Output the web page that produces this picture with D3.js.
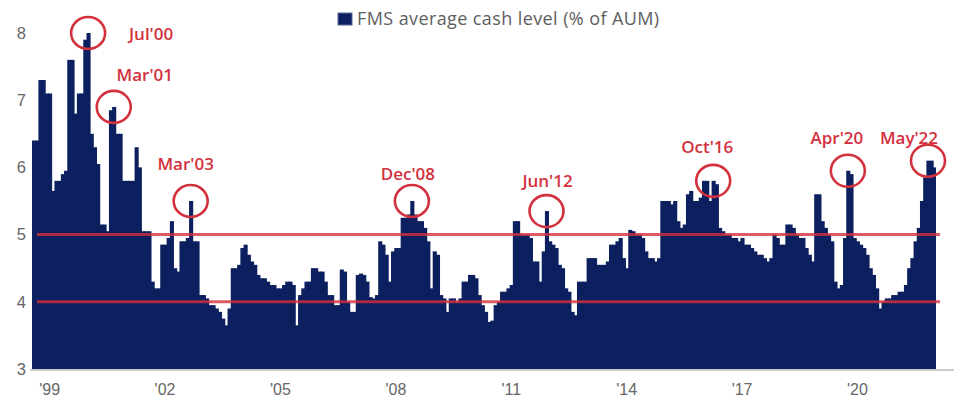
<!DOCTYPE html>
<html lang="en">
<head>
<meta charset="UTF-8">
<title>FMS average cash level</title>
<script src="https://cdnjs.cloudflare.com/ajax/libs/d3/7.8.5/d3.min.js"></script>
<style>
    body { margin: 0; background: #fff; }
    svg { display: block; font-family: 'Open Sans', 'Noto Sans', sans-serif; }
    .axis text { fill: #666; }
    .axis path, .axis line { display: none; }
    .note { fill: #d2313d; font-weight: 600; font-size: 17px; text-anchor: middle; }
</style>
</head>
<body>
<svg id="chart" width="954" height="407"></svg>
<script>
    // monthly FMS cash level, Feb 1999 .. Jul 2022
    const startMonth = new Date(1999, 1, 1);
    const cashLevel = [
        6.4, 6.4, 7.3, 7.3, 7.1, 7.1, 5.65, 5.8, 5.8, 5.9, 5.95,             // 1999 (Feb-Dec)
        7.6, 7.6, 6.8, 7.1, 7.1, 7.9, 8.0, 6.5, 6.3, 6.05, 5.15, 5.15,       // 2000
        5.05, 6.85, 6.9, 6.5, 6.5, 5.8, 5.8, 5.8, 5.8, 6.3, 6.0, 5.05,       // 2001
        5.05, 5.05, 4.3, 4.2, 4.2, 4.85, 4.85, 4.95, 5.2, 4.5, 4.45, 4.9,    // 2002
        4.9, 4.95, 5.5, 4.9, 4.9, 4.1, 4.1, 4.05, 3.95, 3.95, 3.9, 3.85,     // 2003
        3.75, 3.65, 3.9, 4.5, 4.5, 4.55, 4.8, 4.85, 4.7, 4.6, 4.55, 4.4,     // 2004
        4.35, 4.35, 4.3, 4.25, 4.25, 4.2, 4.2, 4.25, 4.3, 4.3, 4.25, 3.65,   // 2005
        4.1, 4.2, 4.3, 4.3, 4.5, 4.5, 4.45, 4.45, 4.3, 4.1, 4.1, 3.95,       // 2006
        3.95, 4.48, 4.45, 4.0, 3.85, 3.85, 4.4, 4.42, 4.4, 4.3, 4.07, 4.05,  // 2007
        4.1, 4.9, 4.85, 4.7, 4.3, 4.75, 4.8, 4.8, 5.25, 5.25, 5.3, 5.5,      // 2008
        5.3, 5.2, 5.2, 5.1, 4.9, 4.2, 4.75, 4.7, 4.1, 4.05, 3.85, 4.05,      // 2009
        4.05, 4.0, 4.05, 4.3, 4.3, 4.4, 4.4, 4.35, 4.1, 3.95, 3.85, 3.7,     // 2010
        3.72, 3.95, 4.0, 4.15, 4.15, 4.2, 4.25, 5.2, 5.2, 5.0, 5.0, 5.0,     // 2011
        4.95, 4.6, 4.6, 4.3, 4.75, 5.35, 4.9, 4.85, 4.8, 4.55, 4.5, 4.2,     // 2012
        4.15, 3.85, 3.8, 4.3, 4.3, 4.3, 4.65, 4.65, 4.65, 4.55, 4.55, 4.55,  // 2013
        4.6, 4.85, 4.85, 4.9, 4.95, 4.65, 4.5, 5.07, 5.05, 5.0, 5.0, 4.95,   // 2014
        4.75, 4.65, 4.65, 4.6, 4.65, 5.5, 5.5, 5.5, 5.45, 5.5, 5.2, 5.1,     // 2015
        5.15, 5.6, 5.65, 5.5, 5.5, 5.55, 5.8, 5.8, 5.5, 5.8, 5.75, 5.1,      // 2016
        5.05, 5.0, 5.0, 4.95, 4.95, 4.9, 4.95, 4.85, 4.85, 4.8, 4.75, 4.7,   // 2017
        4.7, 4.65, 4.6, 4.65, 5.0, 4.95, 4.85, 4.85, 5.15, 5.15, 5.1, 5.0,   // 2018
        4.95, 4.95, 4.8, 4.7, 4.6, 5.6, 5.6, 5.2, 5.1, 5.0, 4.9, 4.3,        // 2019
        4.2, 4.25, 4.95, 5.95, 5.9, 4.95, 4.9, 4.85, 4.8, 4.7, 4.5, 4.4,     // 2020
        4.2, 3.9, 4.0, 4.05, 4.05, 4.1, 4.1, 4.15, 4.15, 4.25, 4.5, 4.65,    // 2021
        4.9, 5.1, 5.5, 5.85, 6.1, 6.1, 6.0                                   // 2022 (Jan-Jul)
    ];
    const yTicks = [3, 4, 5, 6, 7, 8];
    const tickYears = [1999, 2002, 2005, 2008, 2011, 2014, 2017, 2020];
    const tickLabels = ["'99", "'02", "'05", "'08", "'11", "'14", "'17", "'20"];
    const refLines = [5, 4];
    const noteLabels = ["Jul'00", "Mar'01", "Mar'03", "Dec'08", "Jun'12", "Oct'16", "Apr'20", "May'22"];
    const noteMonths = ["2000-07", "2001-03", "2003-03", "2008-12", "2012-06", "2016-10", "2020-04", "2022-05"];
    const legendText = "FMS average cash level (% of AUM)";

    // label offsets from the circled point (layout only)
    const noteOffset = {
        "Jul'00": [63, 0], "Mar'01": [31, -32], "Mar'03": [-5, -38], "Dec'08": [-4, -28],
        "Jun'12": [1, -31], "Oct'16": [-6, -34], "Apr'20": [-11, -33], "May'22": [-19, -23]
    };

    const navy = "#0c1f5e", red = "#d2313d";
    const fmt = d3.timeFormat("%Y-%m");
    const months = d3.timeMonth.range(startMonth, d3.timeMonth.offset(startMonth, cashLevel.length)).map(fmt);
    const data = months.map((m, i) => ({ month: m, value: cashLevel[i] }));

    const svg = d3.select("#chart");
    const x = d3.scaleBand().domain(months).range([32, 936]).padding(0);
    const y = d3.scaleLinear().domain([3, 8]).range([369, 33]);
    const bw = x.bandwidth();

    // bars (slight overlap so neighbours don't show seams)
    svg.append("g").selectAll("rect")
        .data(data)
        .enter().append("rect")
        .attr("x", d => x(d.month))
        .attr("width", (d, i) => i === data.length - 1 ? bw : bw + 0.9)
        .attr("y", d => y(d.value))
        .attr("height", d => y(3) - y(d.value))
        .attr("fill", navy);

    // baseline
    svg.append("line")
        .attr("x1", 30).attr("x2", 954)
        .attr("y1", y(3) + 1).attr("y2", y(3) + 1)
        .attr("stroke", "#b8b8b8").attr("stroke-width", 1.5);

    // reference lines at 5 and 4
    svg.append("g").selectAll("line")
        .data(refLines)
        .enter().append("line")
        .attr("x1", 37).attr("x2", 940)
        .attr("y1", d => y(d)).attr("y2", d => y(d))
        .attr("stroke", red).attr("stroke-width", 3).attr("stroke-opacity", 0.8);

    // axes
    svg.append("g").attr("class", "axis")
        .attr("transform", "translate(28,0)")
        .call(d3.axisLeft(y).tickValues(yTicks).tickSize(0).tickPadding(2).tickFormat(d3.format("d")))
        .selectAll("text").attr("font-size", 16.5);

    svg.append("g").attr("class", "axis")
        .attr("transform", `translate(0,${y(3)})`)
        .call(d3.axisBottom(x).tickValues(tickYears.map(yr => yr + "-07"))
            .tickSize(0).tickPadding(15).tickFormat((d, i) => tickLabels[i]))
        .selectAll("text").attr("font-size", 16);

    // legend
    const leg = svg.append("g").attr("transform", "translate(338,13)");
    leg.append("rect").attr("width", 14).attr("height", 12).attr("fill", navy)
        .attr("stroke", "#5a6a9a").attr("stroke-width", 1);
    leg.append("text").attr("x", 19).attr("y", 12)
        .attr("font-size", 18).attr("letter-spacing", 0.4)
        .attr("fill", "#5e5e5e").text(legendText);

    // circled peaks
    const notes = noteLabels.map((lab, i) => {
        const d = data.find(e => e.month === noteMonths[i]);
        return { label: lab, cx: x(d.month) + bw / 2, cy: y(d.value) };
    });
    const ng = svg.append("g");
    ng.selectAll("ellipse")
        .data(notes)
        .enter().append("ellipse")
        .attr("cx", d => d.cx).attr("cy", d => d.cy)
        .attr("rx", 17).attr("ry", 16)
        .attr("fill", "none").attr("stroke", red).attr("stroke-width", 2.6);
    ng.selectAll("text")
        .data(notes)
        .enter().append("text")
        .attr("class", "note")
        .attr("x", d => d.cx + noteOffset[d.label][0])
        .attr("y", d => d.cy + noteOffset[d.label][1])
        .attr("dominant-baseline", "central")
        .text(d => d.label);
</script>
</body>
</html>
